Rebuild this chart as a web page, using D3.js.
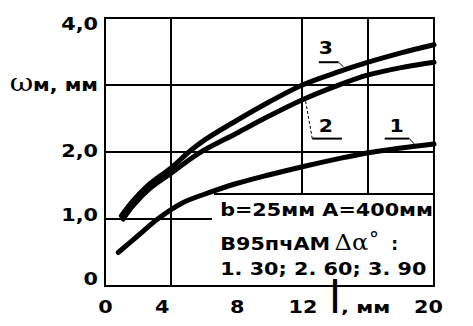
<!DOCTYPE html>
<html>
<head>
<meta charset="utf-8">
<script src="https://cdn.jsdelivr.net/npm/d3@7"></script>
<style>
  body { margin: 0; background: #fff; }
  svg { display: block; }
</style>
</head>
<body>
<script>
// data
const curve1 = [[0.8, 0.5], [2, 0.75], [3.2, 1.0], [4.7, 1.24], [6.4, 1.4], [8, 1.53], [10, 1.66], [12, 1.78], [14, 1.89], [16, 1.99], [18, 2.06], [20, 2.12]];
const curve2 = [[1.1, 1.0], [1.7, 1.2], [2.7, 1.45], [4, 1.68], [5.7, 1.98], [8, 2.28], [10, 2.54], [12, 2.78], [14, 2.98], [16, 3.15], [18, 3.26], [20, 3.34]];
const curve3 = [[1, 1.05], [1.7, 1.27], [2.7, 1.52], [4, 1.76], [5.1, 2.0], [6, 2.17], [8, 2.47], [10, 2.75], [12, 3.0], [14, 3.18], [16, 3.34], [18, 3.48], [20, 3.6]];
const curveNames = ["1", "2", "3"];

const xTickValues = [0, 4, 8, 12, 20];
const xTickLabels = ["0", "4", "8", "12", "20"];
const yTickValues = [0, 1, 2, 3, 4];
const yTickLabels = ["0", "1,0", "2,0", "м, мм", "4,0"];
const xGrid = [4, 12, 16];
const yGrid = [1, 2, 3];

const legendLines = ["b=25мм  A=400мм", "В95пчАМ", "1. 30;  2. 60; 3. 90"];

const WIDTH = 473;
const HEIGHT = 326;
const LEFT = 105, RIGHT = 434, TOP = 18, BOTTOM = 286;
const STRETCH = 1.22;

const svg = d3.select("body")
  .append("svg")
  .attr("width", WIDTH)
  .attr("height", HEIGHT)
  .attr("font-family", "DejaVu Sans")
  .attr("font-weight", "bold");

svg.append("rect").attr("width", WIDTH).attr("height", HEIGHT).attr("fill", "#fff");

const x = d3.scaleLinear().domain([0, 20]).range([LEFT, RIGHT]);
const y = d3.scaleLinear().domain([0, 4]).range([BOTTOM, TOP]);

// widen the glyphs like the chunky original font
function stretch(sel, f) {
  sel.each(function() {
    const w = this.getComputedTextLength();
    d3.select(this)
      .attr("textLength", w * (f || STRETCH))
      .attr("lengthAdjust", "spacingAndGlyphs");
  });
}

// grid
const grid = svg.append("g").attr("stroke", "#000").attr("stroke-width", 2).attr("shape-rendering", "crispEdges");
grid.selectAll(".vg").data(xGrid).enter().append("line")
  .attr("x1", d => x(d)).attr("x2", d => x(d))
  .attr("y1", TOP).attr("y2", BOTTOM);
grid.selectAll(".hg").data(yGrid).enter().append("line")
  .attr("x1", LEFT).attr("x2", RIGHT)
  .attr("y1", d => y(d)).attr("y2", d => y(d));

// legend box (white, covers the grid in the lower right)
svg.append("rect")
  .attr("x", x(6.5)).attr("y", y(1.37))
  .attr("width", x(20) - x(6.5)).attr("height", y(0) - y(1.37))
  .attr("fill", "#fff");
svg.append("line")
  .attr("x1", x(6.65)).attr("x2", x(20))
  .attr("y1", y(1.37)).attr("y2", y(1.37))
  .attr("stroke", "#000").attr("stroke-width", 2).attr("shape-rendering", "crispEdges");

// frame
svg.append("rect")
  .attr("x", LEFT).attr("y", TOP)
  .attr("width", RIGHT - LEFT).attr("height", BOTTOM - TOP)
  .attr("fill", "none").attr("stroke", "#000").attr("stroke-width", 2)
  .attr("shape-rendering", "crispEdges");

// curves
const line = d3.line()
  .x(d => x(d[0]))
  .y(d => y(d[1]))
  .curve(d3.curveCatmullRom.alpha(0.5));

svg.selectAll(".curve")
  .data([curve1, curve2, curve3])
  .enter()
  .append("path")
  .attr("class", "curve")
  .attr("d", line)
  .attr("fill", "none")
  .attr("stroke", "#000")
  .attr("stroke-width", 5)
  .attr("stroke-linecap", "round");

// y axis
const yAxis = d3.axisLeft(y)
  .tickValues(yTickValues)
  .tickFormat((d, i) => yTickLabels[i])
  .tickSize(0)
  .tickPadding(7);

const gy = svg.append("g")
  .attr("transform", "translate(" + LEFT + ",0)")
  .call(yAxis);
gy.select(".domain").remove();
gy.selectAll("text")
  .attr("font-size", 17)
  .attr("font-family", "DejaVu Sans")
  .attr("font-weight", "bold")
  .attr("dy", d => (d === 3 ? "0.3em" : (0.32 + (-7 + 3.25 * d) / 17) + "em"));
gy.selectAll("text").filter(d => d !== 3).call(stretch);
// axis title sits on the 3.0 tick
const omega = gy.selectAll("text").filter(d => d === 3);
omega.text(null);
omega.append("tspan")
  .attr("font-family", "DejaVu Serif")
  .attr("font-weight", "normal")
  .attr("font-size", 24)
  .text("ω");
omega.append("tspan").attr("font-size", 17).text("м, мм");
omega.call(stretch, 1.2);

// x axis
const xAxis = d3.axisBottom(x)
  .tickValues(xTickValues)
  .tickFormat((d, i) => xTickLabels[i])
  .tickSize(0)
  .tickPadding(15);

const gx = svg.append("g")
  .attr("transform", "translate(0," + BOTTOM + ")")
  .call(xAxis);
gx.select(".domain").remove();
gx.selectAll("text")
  .attr("font-size", 17)
  .attr("font-family", "DejaVu Sans")
  .attr("font-weight", "bold")
  .attr("dx", d => (d === 4 ? -9 : d === 20 ? -6 : 0))
  .call(stretch);

// x axis title "l, мм"
svg.append("text")
  .attr("x", x(13.6)).attr("y", 313)
  .attr("font-family", "DejaVu Sans")
  .attr("font-weight", "normal")
  .attr("font-size", 45)
  .text("l");
svg.append("text")
  .attr("x", x(14.35)).attr("y", 313)
  .attr("font-size", 16)
  .text(", мм")
  .call(stretch, 1.3);

// legend text
const lg = svg.append("g");
const baselines = [216, 250, 275];
lg.selectAll("text")
  .data(legendLines)
  .enter()
  .append("text")
  .attr("x", x(7))
  .attr("y", (d, i) => baselines[i])
  .attr("font-size", 17)
  .text(d => d)
  .call(stretch, 1.22);

svg.append("text")
  .attr("x", x(13.95)).attr("y", 250)
  .attr("font-family", "DejaVu Serif")
  .attr("font-weight", "normal")
  .attr("font-size", 22)
  .text("Δα")
  .call(stretch, 1.1);
svg.append("text")
  .attr("x", x(16.05)).attr("y", 246)
  .attr("font-family", "DejaVu Serif")
  .attr("font-weight", "normal")
  .attr("font-size", 20)
  .text("°");
svg.append("text")
  .attr("x", x(17.4)).attr("y", 250)
  .attr("font-size", 17)
  .text(":");

// curve labels with leader lines
const labelPos = [
  { tx: 17.3, ty: 2.3, ux1: 17.0, ux2: 18.5, uy: 2.2, lx: 18.8, ly: 2.12, dash: null },
  { tx: 13.0, ty: 2.3, ux1: 12.6, ux2: 14.4, uy: 2.2, lx: 12.15, ly: 2.82, dash: "3,2" },
  { tx: 13.0, ty: 3.47, ux1: 13.0, ux2: 14.2, uy: 3.34, lx: 14.5, ly: 3.27, dash: null }
];
const ann = svg.selectAll(".ann")
  .data(curveNames)
  .enter()
  .append("g")
  .attr("class", "ann");
ann.append("text")
  .attr("x", (d, i) => x(labelPos[i].tx))
  .attr("y", (d, i) => y(labelPos[i].ty))
  .attr("font-size", 17)
  .text(d => d)
  .call(stretch, 1.2);
ann.append("line")
  .attr("x1", (d, i) => x(labelPos[i].ux1))
  .attr("x2", (d, i) => x(labelPos[i].ux2))
  .attr("y1", (d, i) => y(labelPos[i].uy))
  .attr("y2", (d, i) => y(labelPos[i].uy))
  .attr("stroke", "#000").attr("stroke-width", 2);
ann.append("line")
  .attr("x1", (d, i) => x(i === 1 ? labelPos[i].ux1 : labelPos[i].ux2))
  .attr("y1", (d, i) => y(labelPos[i].uy))
  .attr("x2", (d, i) => x(labelPos[i].lx))
  .attr("y2", (d, i) => y(labelPos[i].ly))
  .attr("stroke", "#000").attr("stroke-width", 1)
  .attr("stroke-dasharray", (d, i) => labelPos[i].dash);
</script>
</body>
</html>
